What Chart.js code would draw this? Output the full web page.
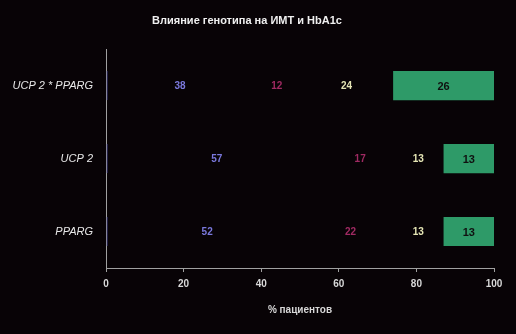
<!DOCTYPE html>
<html>
<head>
<meta charset="utf-8">
<script src="https://cdn.jsdelivr.net/npm/chart.js@4/dist/chart.umd.min.js"></script>
<style>
  html, body { margin: 0; padding: 0; background: #080306; }
  #wrap { width: 516px; height: 334px; }
</style>
</head>
<body>
<div id="wrap"><canvas id="c" width="516" height="334"></canvas></div>
<script>
const categories = ['UCP 2 * PPARG', 'UCP 2', 'PPARG'];
const seriesA = [38, 57, 52];
const seriesB = [12, 17, 22];
const seriesC = [24, 13, 13];
const seriesD = [26, 13, 13];
const xTicks = [0, 20, 40, 60, 80, 100];

const FONT = "'Liberation Sans', Arial, sans-serif";

// Writes each segment's value in its middle, in the segment's label colour
const valueLabels = {
  id: 'valueLabels',
  afterDatasetsDraw(chart) {
    const ctx = chart.ctx;
    ctx.save();
    ctx.textAlign = 'center';
    ctx.textBaseline = 'middle';
    chart.data.datasets.forEach((ds, i) => {
      const meta = chart.getDatasetMeta(i);
      meta.data.forEach((bar, j) => {
        const v = ds.data[j];
        const x = (bar.x + bar.base) / 2;
        ctx.font = 'bold ' + (ds.labelSize || 10) + 'px ' + FONT;
        ctx.fillStyle = ds.labelColor;
        ctx.fillText(String(v), x, bar.y + 1);
      });
    });
    ctx.restore();
  }
};

new Chart(document.getElementById('c'), {
  type: 'bar',
  data: {
    labels: categories,
    datasets: [
      { data: seriesA, backgroundColor: 'rgba(0,0,0,0)', borderColor: '#3a3a86',
        borderWidth: { left: 1, top: 0, right: 0, bottom: 0 }, borderSkipped: false,
        labelColor: '#7a78dc' },
      { data: seriesB, backgroundColor: 'rgba(0,0,0,0)', borderWidth: 0, labelColor: '#a02a62' },
      { data: seriesC, backgroundColor: 'rgba(0,0,0,0)', borderWidth: 0, labelColor: '#e4e4b4' },
      { data: seriesD, backgroundColor: '#2e9a68', borderWidth: 0, labelColor: '#101010', labelSize: 11 }
    ]
  },
  options: {
    indexAxis: 'y',
    responsive: false,
    animation: false,
    events: [],
    layout: { padding: { left: 0, right: 22, top: 0, bottom: 0 } },
    datasets: { bar: { barPercentage: 0.8, categoryPercentage: 0.5 } },
    plugins: {
      legend: { display: false },
      tooltip: { enabled: false },
      title: {
        display: true,
        text: 'Влияние генотипа на ИМТ и HbA1c',
        color: '#f0f0f0',
        font: { family: FONT, size: 11, weight: 'bold' },
        padding: { top: 14, bottom: 22 }
      }
    },
    scales: {
      x: {
        stacked: true,
        min: 0, max: 100,
        afterBuildTicks(scale) { scale.ticks = xTicks.map(v => ({ value: v })); },
        afterFit(scale) { scale.height = 66; },
        border: { display: true, color: '#a0a0a0', width: 1 },
        grid: { display: true, drawOnChartArea: false, drawTicks: true, tickLength: 4, color: '#a0a0a0' },
        ticks: { color: '#d8d8d8', font: { family: FONT, size: 10, weight: 'bold' }, padding: 6, maxRotation: 0 },
        title: {
          display: true, text: '% пациентов', color: '#d8d8d8',
          font: { family: FONT, size: 10, weight: 'bold' },
          padding: { top: 4, bottom: 18 }
        }
      },
      y: {
        stacked: true,
        afterFit(scale) { scale.width = 106; },
        border: { display: true, color: '#a0a0a0', width: 1 },
        grid: { display: false, drawTicks: false },
        ticks: { color: '#e8e8e8', font: { family: FONT, size: 11, style: 'italic' }, padding: 13 }
      }
    }
  },
  plugins: [valueLabels]
});
</script>
</body>
</html>
